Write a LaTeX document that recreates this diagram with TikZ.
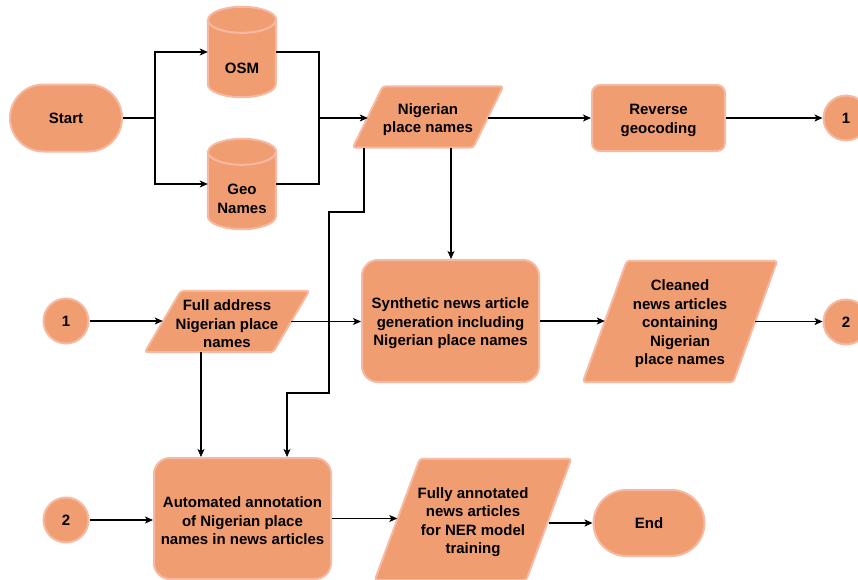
\documentclass[tikz,border=0pt]{standalone}
\usepackage{fontspec}
\setmainfont{Liberation Sans}
\usetikzlibrary{shapes.misc,arrows.meta,calc}
\pgfdeclarelayer{background}
\pgfsetlayers{background,main}

\definecolor{boxfill}{HTML}{F09D72}
\definecolor{boxline}{HTML}{F6B9A2}

\tikzset{
  lbl/.style={align=center,text=black,inner sep=0pt,
    font=\bfseries\fontsize{15}{18.5}\selectfont},
  boxtext/.style={lbl,yshift=-2.5pt},
  shp/.style={fill=boxfill,draw=boxline,line width=2pt},
  procbox/.style={shp,rectangle,inner sep=0pt,rounded corners=#1},
  stadium/.style={lbl,shp,rounded rectangle},
  conn/.style={lbl,shp,circle,minimum size=45pt},
  slantarea/.style={rectangle,inner sep=0pt},
  drum/.style={rectangle,inner sep=0pt,minimum width=68pt,minimum height=90pt},
  link/.style={draw=black,line width=1.1pt},
  arrowlink/.style={link,-{Stealth[length=8pt,width=7pt,inset=2pt]}}
}

% parallelogram drawn on the extent of an empty node; #2 is the horizontal slant
\newcommand\slantbox[2]{%
  \draw[shp,rounded corners=3pt] ([xshift=#2]#1.north west) -- (#1.north east)
    -- ([xshift=-#2]#1.south east) -- (#1.south west) -- cycle;
  \coordinate (#1L) at ([xshift=#2/2]#1.west);
  \coordinate (#1R) at ([xshift=-#2/2]#1.east);
}

% database drum drawn on the extent of an empty node
\newcommand\drumbody[1]{%
  \draw[shp] ([yshift=-13pt]#1.north west) -- ([yshift=13pt]#1.south west)
    arc[start angle=180,end angle=360,x radius=34pt,y radius=13pt]
    -- ([yshift=-13pt]#1.north east)
    arc[start angle=0,end angle=180,x radius=34pt,y radius=13pt] -- cycle;
  \draw[draw=boxline,line width=2pt] ([yshift=-13pt]#1.north west)
    arc[start angle=180,end angle=360,x radius=34pt,y radius=13pt];
}

\begin{document}
\begin{tikzpicture}[x=1pt,y=-1pt]
\useasboundingbox (0,0) rectangle (858,579);

% ---- first row
\node[stadium,minimum width=112pt,minimum height=67pt] (start) at (66,118) {Start};

\node[drum] (osm) at (242,52) {};
\drumbody{osm}
\node[lbl] (osmlbl) at (242,68) {OSM};

\node[drum] (geo) at (242,184) {};
\drumbody{geo}
\node[lbl] (geolbl) at (242,199) {Geo\\Names};

\node[slantarea,minimum width=150pt,minimum height=61pt] (nig) at (428,117) {};
\slantbox{nig}{30pt}
\node[boxtext] (nigtxt) at (nig) {Nigerian\\place names};

\node[procbox=8pt,minimum width=133pt,minimum height=66pt] (rev) at (658.5,118) {};
\node[boxtext] (revtxt) at (rev) {Reverse\\geocoding};
\node[conn] (c1a) at (846,118) {1};

% ---- second row
\node[conn] (c1b) at (66,321) {1};
\node[slantarea,minimum width=164pt,minimum height=61pt] (full) at (227,321.5) {};
\slantbox{full}{36pt}
\node[boxtext] (fulltxt) at (full) {Full address\\Nigerian place\\names};

\node[procbox=16pt,minimum width=177pt,minimum height=122pt] (synth) at (450.5,321) {};
\node[boxtext] (synthtxt) at (synth) {Synthetic news article\\generation including\\Nigerian place names};

\node[slantarea,minimum width=194pt,minimum height=121pt] (clean) at (680,321.5) {};
\slantbox{clean}{44pt}
\node[boxtext] (cleantxt) at (clean) {Cleaned\\news articles\\containing\\Nigerian\\place names};

\node[conn] (c2a) at (846,322) {2};

% ---- third row
\node[conn] (c2b) at (66,520) {2};
\node[procbox=16pt,minimum width=177pt,minimum height=121pt] (auto) at (242.5,518.5) {};
\node[boxtext] (autotxt) at (auto) {Automated annotation\\of Nigerian place\\names in news articles};

\node[slantarea,minimum width=196pt,minimum height=121pt] (fully) at (473,519.5) {};
\slantbox{fully}{45pt}
\node[boxtext] (fullytxt) at (fully) {Fully annotated\\news articles\\for NER model\\training};

\node[stadium,minimum width=111pt,minimum height=66pt] (end) at (649,523) {End};

% ---- connectors
\coordinate (fork) at (155,118);
\coordinate (merge) at (319,118);
\coordinate (bendA) at (329,212);
\coordinate (bendB) at (329,393);

\draw[link] (start.east) -- (fork);
\draw[arrowlink] (fork) |- (osm.west);
\draw[arrowlink] (fork) |- (geo.west);
\draw[link] (osm.east) -| (merge);
\draw[link] (geo.east) -| (merge);
\draw[arrowlink] (merge) -- (merge -| nigL);

\draw[arrowlink] (nigR |- rev.west) -- (rev.west);
\draw[arrowlink] (rev.east) -- (c1a.west);

\draw[arrowlink] ([xshift=23pt]nig.south) -- ([xshift=23pt]nig.south |- synth.north);
\draw[arrowlink] ([xshift=-64pt]nig.south) |- (bendA) -- (bendB)
  -| ([xshift=44.5pt]auto.north);

\draw[arrowlink] (c1b.east) -- (c1b.east -| fullL);
\draw[arrowlink] (fullR) -- (fullR -| synth.west);
\draw[arrowlink] ([xshift=-26pt]full.south) -- ([xshift=-26pt]full.south |- auto.north);

\draw[arrowlink] (synth.east) -- (synth.east -| cleanL);
\draw[arrowlink] (cleanR) -- (cleanR -| c2a.west);

\draw[arrowlink] (c2b.east) -- (c2b.east -| auto.west);
\draw[arrowlink] (auto.east) -- (auto.east -| fullyL);
\draw[arrowlink] (fullyR |- end.west) -- (end.west);
\end{tikzpicture}
\end{document}
